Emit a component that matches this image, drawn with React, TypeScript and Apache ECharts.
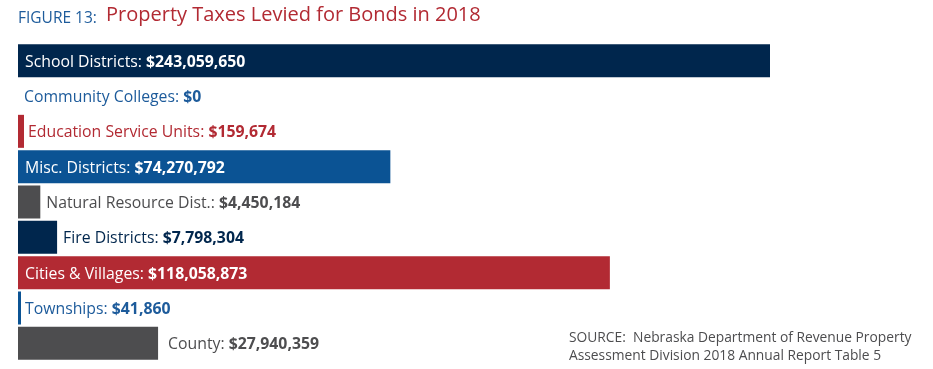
import React, { useEffect, useRef } from "react";
import * as echarts from "echarts";

const categories = [
  "School Districts",
  "Community Colleges",
  "Education Service Units",
  "Misc. Districts",
  "Natural Resource Dist.",
  "Fire Districts",
  "Cities & Villages",
  "Townships",
  "County",
];
const values = [243059650, 0, 159674, 74270792, 4450184, 7798304, 118058873, 41860, 27940359];

const NAVY = "#00264d";
const BLUE = "#0b5394";
const RED = "#b22a33";
const GRAY = "#4d4d4f";

const barColors = [NAVY, "rgba(0,0,0,0)", RED, BLUE, GRAY, NAVY, RED, BLUE, GRAY];
const labelColors = ["#ffffff", "#1d5b9b", RED, "#ffffff", GRAY, NAVY, "#ffffff", "#1d5b9b", GRAY];
const insideLabel = [true, false, false, true, false, false, true, false, false];
const labelDistance = [7, 3, 4, 7, 6, 6, 7, 4, 10];

const FONT = "'Open Sans', sans-serif";

const fmt = (v: number) => "$" + v.toLocaleString("en-US");

export default function App() {
  const ref = useRef<HTMLDivElement>(null);
  useEffect(() => {
    if (!ref.current) return;
    const chart = echarts.init(ref.current, null, { renderer: "svg" });

    const makeItem = (i: number) => ({
      value: values[i],
      itemStyle: { color: barColors[i] },
      label: {
        show: true,
        position: insideLabel[i] ? "insideLeft" : "right",
        distance: labelDistance[i],
        formatter: `{n|${categories[i]}: }{v|${fmt(values[i])}}`,
        rich: {
          n: { fontFamily: FONT, fontSize: 15.8, color: labelColors[i], fontWeight: "normal" },
          v: { fontFamily: FONT, fontSize: 15.8, color: labelColors[i], fontWeight: "bold" },
        },
      },
    });

    const mainData = values.map((_, i) => (i === 2 ? "-" : makeItem(i)));
    const esuData = values.map((_, i) => (i === 2 ? makeItem(i) : "-"));

    chart.setOption({
      animation: false,
      grid: { left: 18, width: 752, top: 43, bottom: 8, containLabel: false },
      xAxis: {
        type: "value",
        min: 0,
        max: 150000000,
        show: false,
      },
      yAxis: {
        type: "category",
        data: categories,
        inverse: true,
        show: false,
      },
      series: [
        {
          type: "bar",
          data: mainData,
          barWidth: 33,
          barGap: "-100%",
          barMinHeight: 3,
          clip: true,
        },
        {
          type: "bar",
          data: esuData,
          barWidth: 33,
          barGap: "-100%",
          barMinHeight: 6,
          clip: true,
        },
      ],
      graphic: [
        {
          type: "text",
          left: 18,
          top: 9,
          style: {
            text: "FIGURE 13:",
            fontFamily: FONT,
            fontSize: 15.5,
            fill: "#1d5b9b",
          },
        },
        {
          type: "text",
          left: 106,
          top: 3,
          style: {
            text: "Property Taxes Levied for Bonds in 2018",
            fontFamily: FONT,
            fontSize: 20,
            fill: RED,
          },
        },
        {
          type: "text",
          left: 569,
          top: 329,
          style: {
            text: "SOURCE:  Nebraska Department of Revenue Property",
            fontFamily: FONT,
            fontSize: 13.8,
            fill: GRAY,
          },
        },
        {
          type: "text",
          left: 569,
          top: 347,
          style: {
            text: "Assessment Division 2018 Annual Report Table 5",
            fontFamily: FONT,
            fontSize: 13.8,
            fill: GRAY,
          },
        },
      ],
    });
    return () => chart.dispose();
  }, []);
  return (
    <div
      ref={ref}
      style={{ position: "fixed", left: 0, top: 0, width: 933, height: 369 }}
    />
  );
}
